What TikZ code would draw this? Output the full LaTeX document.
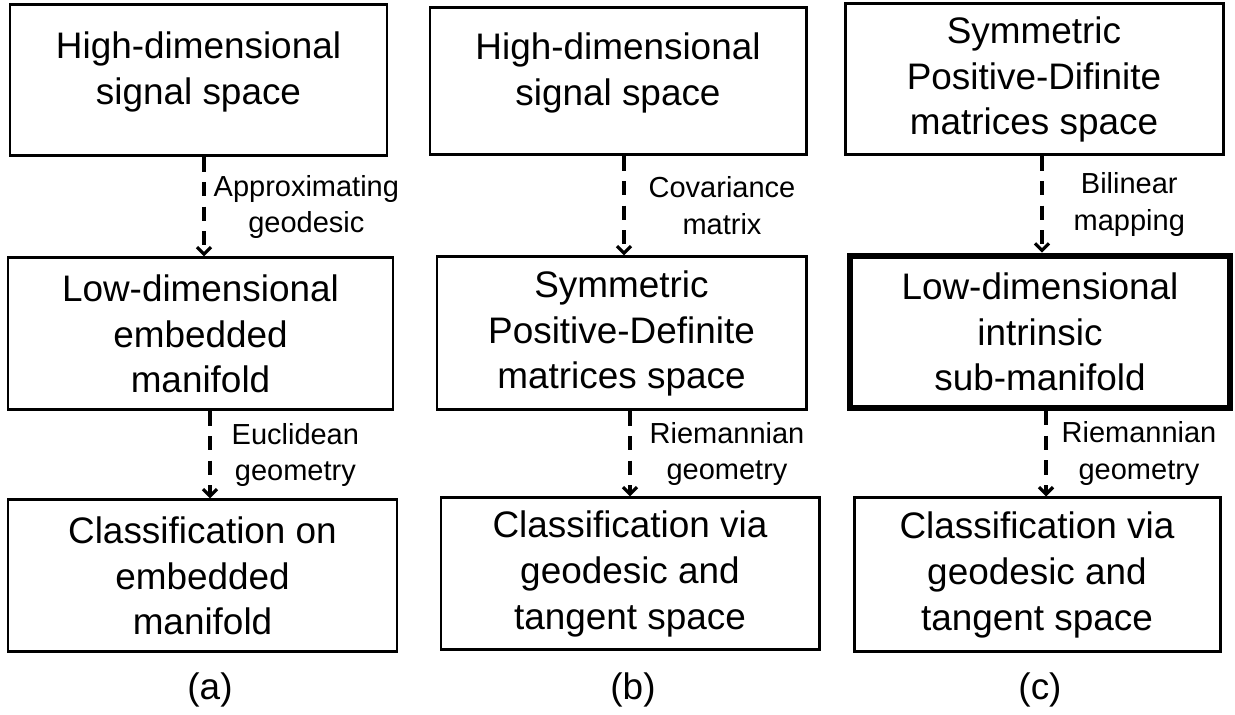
\documentclass[tikz,border=0pt]{standalone}
\usepackage{fontspec}
\setmainfont{Liberation Sans}
\usetikzlibrary{arrows.meta, positioning, calc}

\begin{document}
\begin{tikzpicture}[>={Straight Barb[length=4pt,width=8pt]}, line width=1.7pt,
  box/.style={draw, align=center, inner sep=0pt, font=\fontsize{21}{26}\selectfont},
  flow/.style={->, line width=1.9pt, dash pattern=on 8pt off 6pt},
  lbl/.style={align=center, inner sep=0pt, font=\fontsize{16.5}{21}\selectfont},
  sublabel/.style={font=\fontsize{21}{26}\selectfont}]
  \useasboundingbox (0,0) rectangle (24.7,14.3);

  % (a) Euklidovske vnoreni
  \node[box, minimum width=7.54cm, minimum height=3.02cm, text depth=0.5cm] (a1) at (3.97,12.69) {High-dimensional\\signal space};
  \node[box, minimum width=7.7cm, minimum height=3.04cm] (a2) at (4.01,7.62) {Low-dimensional\\embedded\\manifold};
  \node[box, minimum width=7.78cm, minimum height=3.04cm] (a3) at (4.05,2.78) {Classification on\\embedded\\manifold};
  \draw[flow] ([xshift=0.11cm]a1.south) -- ([xshift=0.11cm]a1.south |- a2.north)
    node[midway, lbl, right=0.16cm] {Approximating\\geodesic};
  \draw[flow] ([xshift=0.19cm]a2.south) -- ([xshift=0.19cm]a2.south |- a3.north)
    node[midway, lbl, right=0.4cm] {Euclidean\\geometry};
  \node[sublabel] (la) at (4.2,0.5) {(a)};

  % (b) SPD matice
  \node[box, minimum width=7.52cm, minimum height=2.94cm, text depth=0.5cm] (b1) at (12.36,12.67) {High-dimensional\\signal space};
  \node[box, minimum width=7.38cm, minimum height=3.06cm] (b2) at (12.43,7.63) {Symmetric\\Positive-Definite\\matrices space};
  \node[box, minimum width=7.56cm, minimum height=3.04cm] (b3) at (12.6,2.82) {Classification via\\geodesic and\\tangent space};
  \draw[flow] ([xshift=0.12cm]b1.south) -- ([xshift=0.12cm]b1.south |- b2.north)
    node[midway, lbl, right=0.46cm] {Covariance\\matrix};
  \draw[flow] ([xshift=0.17cm]b2.south) -- ([xshift=0.17cm]b2.south |- b3.north)
    node[midway, lbl, right=0.36cm] {Riemannian\\geometry};
  \node[sublabel] (lb) at (12.66,0.5) {(b)};

  % (c) vnitrni podvarieta
  \node[box, minimum width=7.56cm, minimum height=3.02cm] (c1) at (20.68,12.71) {Symmetric\\Positive-Difinite\\matrices space};
  \node[box, line width=3.7pt, minimum width=7.6cm, minimum height=3.04cm] (c2) at (20.8,7.66) {Low-dimensional\\intrinsic\\sub-manifold};
  \node[box, minimum width=7.32cm, minimum height=3.08cm] (c3) at (20.74,2.8) {Classification via\\geodesic and\\tangent space};
  \draw[flow] ([xshift=0.16cm]c1.south) -- ([xshift=0.16cm]c1.south |- c2.north)
    node[midway, lbl, right=0.6cm] {Bilinear\\mapping};
  \draw[flow] ([xshift=0.12cm]c2.south) -- ([xshift=0.12cm]c2.south |- c3.north)
    node[midway, lbl, right=0.28cm] {Riemannian\\geometry};
  \node[sublabel] (lc) at (20.8,0.5) {(c)};
\end{tikzpicture}
\end{document}
